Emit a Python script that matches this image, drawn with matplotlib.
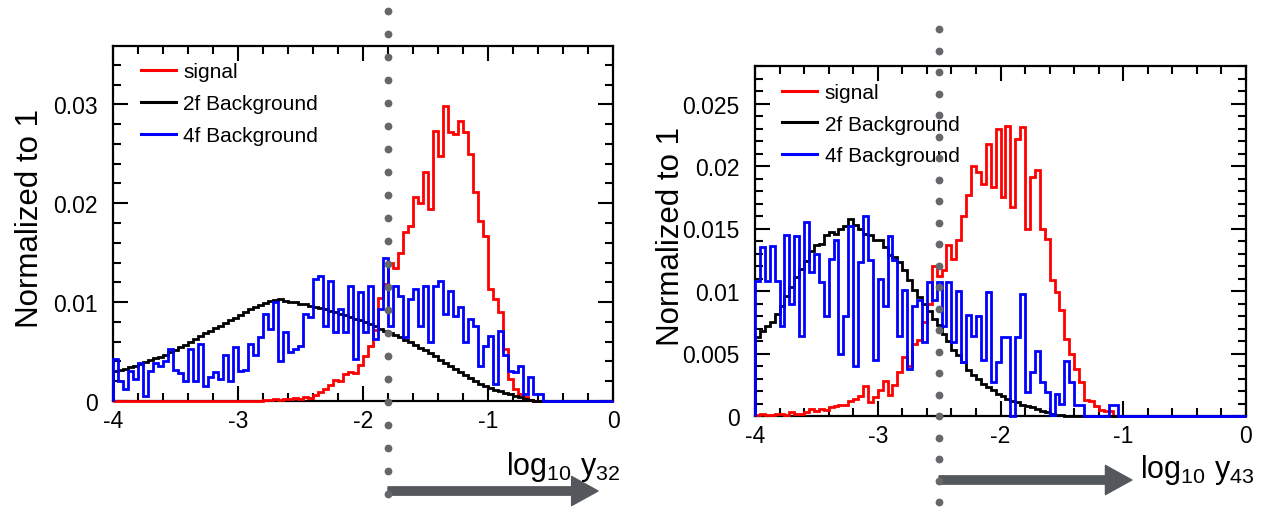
import numpy as np
import matplotlib
matplotlib.use("Agg")
import matplotlib.pyplot as plt
from matplotlib.lines import Line2D
from matplotlib.ticker import MultipleLocator, FuncFormatter

# ---------------- data (100 bins on [-4, 0]) ----------------
bin_edges = np.linspace(-4.0, 0.0, 101)

left_signal = [0.0] * 30 + [
    0.0001, 0.0001, 0.0002, 0.0001, 0.0002, 0.0002, 0.0003, 0.0002, 0.0004, 0.0003,
    0.0006, 0.0009, 0.0012, 0.0016, 0.0021, 0.0020, 0.0027, 0.0029, 0.0028, 0.0036,
    0.0046, 0.0056, 0.0072, 0.0104, 0.0118, 0.0140, 0.0135, 0.0150, 0.0171, 0.0177,
    0.0206, 0.0200, 0.0232, 0.0194, 0.0273, 0.0248, 0.0298, 0.0272, 0.0270, 0.0283,
    0.0272, 0.0250, 0.0211, 0.0182, 0.0167, 0.0113, 0.0103, 0.0090, 0.0053, 0.0022,
    0.0012, 0.0007, 0.0004, 0.0001] + [0.0] * 16

left_bkg2f = [
    0.0030, 0.0031, 0.0032, 0.0034, 0.0035, 0.0037, 0.0039, 0.0041, 0.0043, 0.0045,
    0.0047, 0.0050, 0.0052, 0.0055, 0.0057, 0.0060, 0.0063, 0.0066, 0.0069, 0.0071,
    0.0074, 0.0076, 0.0079, 0.0082, 0.0084, 0.0087, 0.0090, 0.0093, 0.0095, 0.0097,
    0.0099, 0.0101, 0.0102, 0.0103, 0.0101, 0.0100, 0.0100, 0.0098, 0.0098, 0.0096,
    0.0095, 0.0094, 0.0093, 0.0091, 0.0090, 0.0088, 0.0087, 0.0085, 0.0083, 0.0082,
    0.0080, 0.0078, 0.0076, 0.0073, 0.0071, 0.0069, 0.0067, 0.0065, 0.0062, 0.0060,
    0.0057, 0.0054, 0.0052, 0.0049, 0.0046, 0.0041, 0.0038, 0.0035, 0.0032, 0.0029,
    0.0026, 0.0023, 0.0020, 0.0017, 0.0015, 0.0013, 0.0011, 0.0010, 0.0008, 0.0007,
    0.0005, 0.0004, 0.0002, 0.0001] + [0.0] * 16

left_bkg4f = [
    0.0042, 0.0020, 0.0012, 0.0030, 0.0022, 0.0038, 0.0005, 0.0030, 0.0038, 0.0035,
    0.0040, 0.0053, 0.0031, 0.0028, 0.0020, 0.0053, 0.0020, 0.0058, 0.0015, 0.0024,
    0.0029, 0.0022, 0.0047, 0.0020, 0.0055, 0.0030, 0.0031, 0.0058, 0.0047, 0.0065,
    0.0088, 0.0073, 0.0100, 0.0040,
    0.0070, 0.0050, 0.0053, 0.0056, 0.0088, 0.0085, 0.0123, 0.0126, 0.0076, 0.0121,
    0.0070, 0.0093, 0.0070, 0.0116, 0.0042, 0.0110, 0.0070, 0.0116, 0.0063, 0.0093,
    0.0145, 0.0076, 0.0116, 0.0106, 0.0065, 0.0103, 0.0113, 0.0076, 0.0116, 0.0060,
    0.0116, 0.0121, 0.0088,
    0.0111, 0.0086, 0.0095, 0.0060, 0.0083, 0.0076, 0.0035, 0.0056, 0.0066, 0.0017,
    0.0071, 0.0047, 0.0030, 0.0029, 0.0035, 0.0007, 0.0024, 0.0007, 0.0007] + [0.0] * 14

right_signal = [
    0.0001, 0.0002, 0.0001, 0.0001, 0.0002, 0.0002, 0.0001, 0.0003, 0.0002, 0.0002,
    0.0003, 0.0006, 0.0004, 0.0006, 0.0005, 0.0007, 0.0008, 0.0009, 0.0009, 0.0012,
    0.0014, 0.0016, 0.0024, 0.0011, 0.0015, 0.0021, 0.0028, 0.0017, 0.0025, 0.0035,
    0.0047, 0.0040, 0.0058, 0.0061,
    0.0075, 0.0090, 0.0120, 0.0112, 0.0117, 0.0137, 0.0126, 0.0141, 0.0160, 0.0177,
    0.0200, 0.0195, 0.0186, 0.0218, 0.0183, 0.0230, 0.0175, 0.0232, 0.0167, 0.0222,
    0.0231, 0.0150, 0.0191, 0.0197, 0.0150, 0.0142, 0.0109, 0.0099, 0.0085, 0.0062,
    0.0050, 0.0038, 0.0027, 0.0013, 0.0012, 0.0008, 0.0005, 0.0004, 0.0004] + [0.0] * 27

right_bkg2f = [
    0.0063, 0.0068, 0.0072, 0.0075, 0.0082, 0.0088, 0.0096, 0.0103, 0.0111, 0.0118,
    0.0124, 0.0132, 0.0137, 0.0138, 0.0145, 0.0147, 0.0146, 0.0150, 0.0152, 0.0158,
    0.0153, 0.0150, 0.0146, 0.0145, 0.0141, 0.0141, 0.0135, 0.0129, 0.0127, 0.0123,
    0.0117, 0.0109, 0.0101, 0.0095,
    0.0090, 0.0084, 0.0078, 0.0073, 0.0066, 0.0060, 0.0053, 0.0049, 0.0043, 0.0037,
    0.0033, 0.0030, 0.0026, 0.0023, 0.0021, 0.0018, 0.0016, 0.0014, 0.0012, 0.0011,
    0.0009, 0.0008, 0.0007, 0.0006, 0.0004, 0.0003, 0.0002, 0.0001, 0.0001] + [0.0] * 37

right_bkg4f = [
    0.0108, 0.0135, 0.0108, 0.0136, 0.0108, 0.0072, 0.0145, 0.0090, 0.0144, 0.0064,
    0.0155, 0.0115, 0.0130, 0.0107, 0.0080, 0.0126, 0.0141, 0.0050, 0.0080, 0.0152,
    0.0040, 0.0123, 0.0160, 0.0125, 0.0045, 0.0110, 0.0088, 0.0144, 0.0125, 0.0064,
    0.0101, 0.0038, 0.0088, 0.0093,
    0.0059, 0.0107, 0.0093, 0.0107, 0.0072, 0.0107, 0.0059, 0.0100, 0.0043, 0.0081,
    0.0064, 0.0080, 0.0045, 0.0099,
    0.0027, 0.0043, 0.0063, 0.0063, 0.0000, 0.0063, 0.0098, 0.0019, 0.0035, 0.0052,
    0.0027, 0.0019, 0.0001, 0.0018, 0.0010, 0.0044, 0.0027, 0.0009, 0.0009,
    0.0, 0.0, 0.0, 0.0, 0.0, 0.0009, 0.0009] + [0.0] * 26

series_labels = ["signal", "2f Background", "4f Background"]
series_colors = ["#ff0000", "#000000", "#0000ff"]
cut_y32 = -1.8
cut_y43 = -2.5

# ---------------- style ----------------
plt.rcParams["font.family"] = ["Liberation Sans", "DejaVu Sans"]
plt.rcParams["mathtext.fontset"] = "custom"
plt.rcParams["mathtext.rm"] = "Liberation Sans"
plt.rcParams["mathtext.it"] = "Liberation Sans"

W, H = 1266, 510
fig = plt.figure(figsize=(W / 100, H / 100), dpi=100)

def frac(x0, y_top, x1, y_bot):
    return [x0 / W, 1 - y_bot / H, (x1 - x0) / W, (y_bot - y_top) / H]

axL = fig.add_axes(frac(113, 47, 613, 402))
axR = fig.add_axes(frac(755, 67, 1246, 417))

fmt = FuncFormatter(lambda v, p: "0" if abs(v) < 1e-12 else f"{v:g}")

def style(ax, ymax, ymaj, ymin):
    ax.set_xlim(-4, 0)
    ax.set_ylim(0, ymax)
    ax.xaxis.set_major_locator(MultipleLocator(1))
    ax.xaxis.set_minor_locator(MultipleLocator(0.2))
    ax.yaxis.set_major_locator(MultipleLocator(ymaj))
    ax.yaxis.set_minor_locator(MultipleLocator(ymin))
    ax.xaxis.set_major_formatter(fmt)
    ax.yaxis.set_major_formatter(fmt)
    ax.tick_params(which="both", direction="in", top=True, right=True,
                   width=1.5, colors="black")
    ax.tick_params(which="major", length=11, labelsize=16.5)
    ax.tick_params(which="minor", length=6)
    ax.tick_params(axis="x", which="major", pad=6)
    ax.tick_params(axis="y", which="major", pad=11)
    for s in ax.spines.values():
        s.set_linewidth(1.6)

def draw(ax, sig, b2, b4, anchor_y, spacing):
    for vals, col, z in zip([sig, b2, b4], series_colors, [3.0, 3.1, 3.2]):
        ax.stairs(vals, bin_edges, color=col, lw=2.0, baseline=0,
                  clip_on=False, zorder=z)
    handles = [Line2D([], [], color=c, lw=2.2) for c in series_colors]
    ax.legend(handles, series_labels, loc="upper left",
              bbox_to_anchor=(0.056, anchor_y), frameon=False, fontsize=15,
              handlelength=1.67, handletextpad=0.35, labelspacing=spacing,
              borderpad=0, borderaxespad=0)

style(axL, 0.0359, 0.01, 0.002)
style(axR, 0.028, 0.005, 0.001)
draw(axL, left_signal, left_bkg2f, left_bkg4f, 0.954, 0.62)
draw(axR, right_signal, right_bkg2f, right_bkg4f, 0.951, 0.60)

# y titles
fig.text(30 / W, 1 - 219 / H, "Normalized to 1", rotation=90,
         ha="center", va="center", fontsize=22.5)
fig.text(671 / W, 1 - 237 / H, "Normalized to 1", rotation=90,
         ha="center", va="center", fontsize=22.5)

# x titles
axL.text(1.014, (402 - 475) / 355, r"$\mathregular{log_{10}\ y_{32}}$",
         transform=axL.transAxes, ha="right", va="baseline", fontsize=22)
axR.text(1.018, (417 - 478) / 350, r"$\mathregular{log_{10}\ y_{43}}$",
         transform=axR.transAxes, ha="right", va="baseline", fontsize=22)

# cut lines (dotted) and arrows
dot_col = "#65686b"
arrow_col = "#54585d"

def cut_marks(ax, cut, y_top_px, y_bot_px, spacing, ax_top, ax_bot, tip, arrow_px):
    py = np.arange(y_top_px, y_bot_px, spacing)
    yf = (ax_bot - py) / (ax_bot - ax_top)
    ax.plot(np.full(len(yf), cut), yf, ls="none", marker="o", ms=4.6,
            color=dot_col, transform=ax.get_xaxis_transform(),
            clip_on=False, zorder=6)
    ya = (ax_bot - arrow_px) / (ax_bot - ax_top)
    ax.annotate("", xy=(tip, ya), xytext=(cut, ya),
                xycoords=ax.get_xaxis_transform(),
                textcoords=ax.get_xaxis_transform(),
                arrowprops=dict(width=6, headwidth=21, headlength=19,
                                facecolor=arrow_col, edgecolor=arrow_col,
                                shrink=0),
                annotation_clip=False)

cut_marks(axL, cut_y32, 12, 505, 23, 47, 402, -0.12, 492)
cut_marks(axR, cut_y43, 30, 510, 21.5, 67, 417, -0.93, 481)

fig.savefig("out.png", dpi=100)
